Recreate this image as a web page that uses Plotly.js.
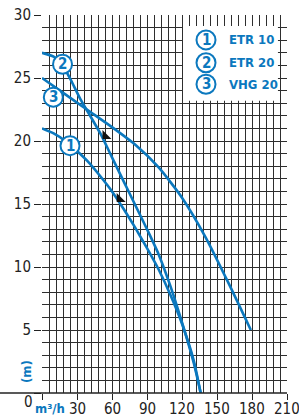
<!DOCTYPE html>
<html>
<head>
<meta charset="utf-8">
<script src="https://cdn.plot.ly/plotly-3.0.1.min.js"></script>
<style>html,body{margin:0;padding:0;background:#fff;}#chart{width:299px;height:418px;}</style>
</head>
<body>
<div id="chart"></div>
<script>
// ---- data ----
var etr10Q = [0, 10, 20, 30, 40, 50, 60, 70, 80, 90, 100, 110, 120, 130, 136];
var etr10H = [21, 20.6, 20.0, 19.2, 18.3, 17.2, 16.0, 14.6, 13.1, 11.5, 9.8, 7.8, 5.5, 2.6, 0];
var etr20Q = [0, 10, 17, 25, 33, 40, 50, 60, 70, 80, 90, 100, 110, 120, 130, 136];
var etr20H = [27, 26.7, 26.1, 24.8, 23.3, 22.2, 20.6, 18.7, 16.8, 14.9, 13.0, 11.0, 8.5, 5.6, 2.4, 0];
var vhg20Q = [0, 20, 40, 60, 80, 100, 120, 140, 160, 179];
var vhg20H = [25, 23.7, 22.4, 21.1, 19.7, 17.9, 15.5, 12.4, 8.7, 5.0];
var markQ = [54.4, 66.6];
var markH = [20.4, 15.4];
var xTickVals = [0, 30, 60, 90, 120, 150, 180, 210];
var xTickText = ['', '30', '60', '90', '120', '150', '180', '210'];
var yTickVals = [0, 5, 10, 15, 20, 25, 30];
var yTickText = ['', '5', '10', '15', '20', '25', '30'];
var seriesNames = ['ETR 10', 'ETR 20', 'VHG 20'];

var BLUE = '#0b78be';
var GRID = '#2e2e2e';
var FONT = 'Liberation Sans Narrow, DejaVu Sans Condensed, Arial Narrow, sans-serif';

function curve(q, h) {
  return {x: q, y: h, type: 'scatter', mode: 'lines', line: {color: BLUE, width: 2.6, shape: 'spline', smoothing: 0.6}, hoverinfo: 'skip', showlegend: false};
}
var data = [
  curve(etr10Q, etr10H),
  curve(etr20Q, etr20H),
  curve(vhg20Q, vhg20H),
  {x: markQ, y: markH, type: 'scatter', mode: 'markers', marker: {symbol: 'triangle-sw', size: 10, color: '#111'}, showlegend: false, hoverinfo: 'skip'}
];

var shapes = [];
var annotations = [];
function circled(xref, yref, xa, ya, num) {
  shapes.push({type: 'circle', xref: xref, yref: yref, xsizemode: 'pixel', ysizemode: 'pixel',
    xanchor: xa, yanchor: ya, x0: -9.5, x1: 9.5, y0: -9.5, y1: 9.5,
    fillcolor: '#fff', line: {color: BLUE, width: 2}, layer: 'above'});
  annotations.push({xref: xref, yref: yref, x: xa, y: ya, text: '<b>' + num + '</b>', showarrow: false,
    font: {family: FONT, size: 15, color: BLUE}, xanchor: 'center', yanchor: 'middle'});
}

// legend box
shapes.push({type: 'rect', xref: 'paper', yref: 'paper', x0: 0.5755, x1: 0.963, y0: 0.773, y1: 0.971,
  fillcolor: '#fff', line: {width: 0}, layer: 'above'});
// bottom axis line extending left
shapes.push({type: 'line', xref: 'paper', yref: 'paper', x0: -42 / 245, x1: 1, y0: 0, y1: 0,
  line: {color: '#222', width: 1.5}, layer: 'above'});

var legY = [0.934, 0.8738, 0.8167];
for (var i = 0; i < 3; i++) {
  circled('paper', 'paper', 0.6694, legY[i], String(i + 1));
  annotations.push({xref: 'paper', yref: 'paper', x: 0.755, y: legY[i], text: '<b>' + seriesNames[i] + '</b>',
    showarrow: false, xanchor: 'left', yanchor: 'middle', font: {family: FONT, size: 13, color: BLUE}});
}
// on-curve labels
circled('x', 'y', 17.6, 26.09, '2');
circled('x', 'y', 9.7, 23.47, '3');
circled('x', 'y', 24, 19.63, '1');

// x tick labels as annotations (kept inside the picture)
for (var k = 0; k < xTickVals.length; k++) {
  if (!xTickText[k]) continue;
  annotations.push({xref: 'x', yref: 'paper', x: xTickVals[k], y: -0.0423, text: xTickText[k], showarrow: false,
    xanchor: 'center', yanchor: 'middle', font: {family: FONT, size: 15, color: '#222'}});
}

annotations.push({xref: 'paper', yref: 'paper', x: -0.057, y: -0.0238, text: '0', showarrow: false,
  xanchor: 'center', yanchor: 'middle', font: {family: FONT, size: 15, color: '#222'}});
annotations.push({xref: 'paper', yref: 'paper', x: 0.0327, y: -0.0423, text: '<b>m³/h</b>', showarrow: false,
  xanchor: 'center', yanchor: 'middle', font: {family: FONT, size: 13, color: BLUE}});
annotations.push({xref: 'paper', yref: 'paper', x: -0.0612, y: 0.0556, text: '<b>(m)</b>', showarrow: false,
  textangle: -90, xanchor: 'center', yanchor: 'middle', font: {family: FONT, size: 13, color: BLUE}});

var layout = {
  width: 299, height: 418,
  margin: {l: 42, r: 12, t: 15, b: 25, pad: 0},
  paper_bgcolor: '#fff', plot_bgcolor: '#fff',
  showlegend: false,
  font: {family: FONT, color: '#222'},
  xaxis: {
    range: [0, 210], tickmode: 'array', tickvals: xTickVals, ticktext: xTickText, showticklabels: false,
    ticks: 'outside', ticklen: 6, tickwidth: 1, tickcolor: '#222',
    showgrid: true, gridcolor: GRID, gridwidth: 1, zeroline: false, showline: false,
    minor: {tickmode: 'linear', tick0: 0, dtick: 6, showgrid: true, gridcolor: GRID, gridwidth: 1, ticks: ''},
    fixedrange: true
  },
  yaxis: {
    range: [0, 30], tickmode: 'array', tickvals: yTickVals, ticktext: yTickText,
    ticks: 'outside', ticklen: 7, tickwidth: 1, tickcolor: '#222',
    showgrid: true, gridcolor: GRID, gridwidth: 1, zeroline: false, showline: false,
    minor: {tickmode: 'linear', tick0: 0, dtick: 1, showgrid: true, gridcolor: GRID, gridwidth: 1, ticks: ''},
    tickfont: {family: FONT, size: 15, color: '#222'}, fixedrange: true
  },
  shapes: shapes,
  annotations: annotations
};
Plotly.newPlot('chart', data, layout, {displayModeBar: false, staticPlot: true});
</script>
</body>
</html>
